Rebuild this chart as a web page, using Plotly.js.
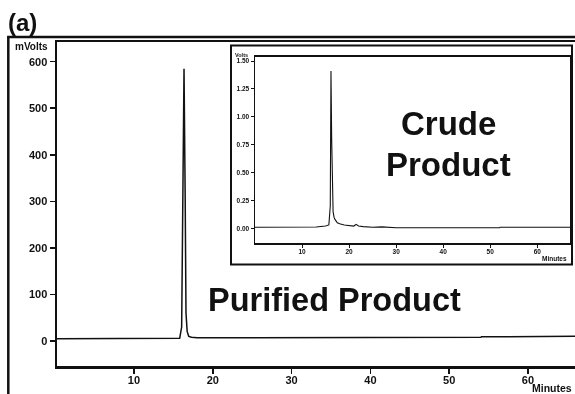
<!DOCTYPE html>
<html>
<head>
<meta charset="utf-8">
<script src="https://cdn.plot.ly/plotly-3.0.1.min.js"></script>
<style>
html,body{margin:0;padding:0;background:#fff;overflow:hidden;width:575px;height:394px;}
#chart{width:600px;height:394px;filter:grayscale(100%);-webkit-font-smoothing:antialiased;}
</style>
</head>
<body>
<div id="chart"></div>
<script>
// Purified product chromatogram (mVolts vs minutes)
const mainTime   = [0.2, 5, 9.5, 9.6, 12, 15.8, 16.05, 16.2, 16.35, 16.5, 16.6, 16.75, 16.95, 17.3, 18, 25, 42.5, 42.6, 54, 54.1, 60.3, 60.4, 68];
const mainSignal = [5,   5, 5,   6,   6,  6,    30,    300,  585,   300,  60,   20,    10,    8,    7,  7,  7,    8,    8,  9,    9,    10.5, 10.5];

// Crude product chromatogram (Volts vs minutes)
const insetTime   = [0, 5, 7, 8, 10, 13, 15, 15.7, 16.0, 16.15, 16.3, 16.45, 16.6, 16.8, 17, 17.5, 18, 19, 20, 21, 21.5, 22, 23, 25, 27, 29, 30, 52, 52.1, 67];
const insetSignal = [0.01, 0.01, 0.015, 0.012, 0.01, 0.012, 0.02, 0.03, 0.2, 1.41, 0.8, 0.3, 0.15, 0.1, 0.08, 0.05, 0.04, 0.03, 0.025, 0.02, 0.035, 0.02, 0.015, 0.01, 0.013, 0.008, 0.005, 0.005, 0.01, 0.01];

const mainXTicks  = [10, 20, 30, 40, 50, 60];
const mainYTicks  = [0, 100, 200, 300, 400, 500, 600];
const insetXTicks = [10, 20, 30, 40, 50, 60];
const insetYTicks = [0, 0.25, 0.5, 0.75, 1.0, 1.25, 1.5];
const insetYLabels = ['0.00', '0.25', '0.50', '0.75', '1.00', '1.25', '1.50'];

const FONT = 'Liberation Sans, Arial, Helvetica, sans-serif';
const INK = '#111';

// pixel -> paper helpers (plot area: x 57..590, y 42..366)
const L = 57, R = 10, T = 42, B = 28, W = 600, H = 394;
const PW = W - L - R, PH = H - T - B;
const px = v => (v - L) / PW;
const py = v => (H - B - v) / PH;

const traces = [
  {x: mainTime, y: mainSignal, type: 'scatter', mode: 'lines',
   line: {color: INK, width: 1.5}, xaxis: 'x', yaxis: 'y', hoverinfo: 'skip'},
  {x: insetTime, y: insetSignal, type: 'scatter', mode: 'lines',
   line: {color: INK, width: 1.1}, xaxis: 'x2', yaxis: 'y2', hoverinfo: 'skip'}
];

const layout = {
  width: W, height: H,
  margin: {l: L, r: R, t: T, b: B},
  paper_bgcolor: '#fff', plot_bgcolor: '#fff',
  showlegend: false,
  font: {family: FONT, color: INK},
  xaxis: {
    range: [0.23, 67.87], showgrid: false, zeroline: false,
    showline: true, mirror: true, linecolor: INK, linewidth: 2.5,
    ticks: 'outside', ticklen: 5, tickwidth: 1.5, tickcolor: INK,
    ticklabelstandoff: -3,
    tickvals: mainXTicks, ticktext: mainXTicks.map(String),
    tickfont: {family: FONT, size: 11, color: INK, weight: 'bold'}
  },
  yaxis: {
    range: [-53.7, 642.3], showgrid: false, zeroline: false,
    showline: true, mirror: true, linecolor: INK, linewidth: 2.5,
    ticks: 'outside', ticklen: 5, tickwidth: 1.5, tickcolor: INK,
    tickvals: mainYTicks, ticktext: mainYTicks.map(String),
    tickfont: {family: FONT, size: 11, color: INK, weight: 'bold'}
  },
  xaxis2: {
    domain: [px(255), px(570)], anchor: 'y2',
    range: [0, 66.96], showgrid: false, zeroline: false,
    showline: true, mirror: true, linecolor: INK, linewidth: 1.5,
    ticks: 'outside', ticklen: 3, tickwidth: 1, tickcolor: INK,
    ticklabelstandoff: -2,
    tickvals: insetXTicks, ticktext: insetXTicks.map(String),
    tickfont: {family: FONT, size: 6.5, color: INK, weight: 'bold'}
  },
  yaxis2: {
    domain: [py(243.3), py(56.5)], anchor: 'x2',
    range: [-0.1345, 1.541], showgrid: false, zeroline: false,
    showline: true, mirror: true, linecolor: INK, linewidth: 1.5,
    ticks: 'outside', ticklen: 3, tickwidth: 1, tickcolor: INK,
    tickvals: insetYTicks, ticktext: insetYLabels,
    tickfont: {family: FONT, size: 6.5, color: INK, weight: 'bold'}
  },
  shapes: [
    // outer figure frame
    {type: 'rect', xref: 'paper', yref: 'paper', x0: px(8.3), x1: 1.3, y0: -0.3, y1: py(37),
     line: {color: INK, width: 2.5}, fillcolor: 'rgba(0,0,0,0)', layer: 'above'},
    // inset frame
    {type: 'rect', xref: 'paper', yref: 'paper', x0: px(231), x1: px(572), y0: py(264.5), y1: py(45.5),
     line: {color: INK, width: 2}, fillcolor: '#fff', layer: 'below'}
  ],
  annotations: [
    {text: '<b>(a)</b>', xref: 'paper', yref: 'paper', x: px(6), y: py(23),
     xanchor: 'left', yanchor: 'middle', showarrow: false, font: {family: FONT, size: 24, color: INK}},
    {text: '<b>mVolts</b>', xref: 'paper', yref: 'paper', x: px(50), y: py(46),
     xanchor: 'right', yanchor: 'middle', showarrow: false, font: {family: FONT, size: 10, color: INK}},
    {text: '<b>Minutes</b>', xref: 'paper', yref: 'paper', x: px(574), y: py(387.5),
     xanchor: 'right', yanchor: 'middle', showarrow: false, font: {family: FONT, size: 10.5, color: INK}},
    {text: '<b>Volts</b>', xref: 'paper', yref: 'paper', x: px(250), y: py(54.7),
     xanchor: 'right', yanchor: 'middle', showarrow: false, font: {family: FONT, size: 5.5, color: INK}},
    {text: '<b>Minutes</b>', xref: 'paper', yref: 'paper', x: px(569), y: py(258.7),
     xanchor: 'right', yanchor: 'middle', showarrow: false, font: {family: FONT, size: 6.5, color: INK}},
    {text: '<b>Crude</b>', xref: 'paper', yref: 'paper', x: px(448), y: py(123),
     xanchor: 'center', yanchor: 'middle', showarrow: false, font: {family: FONT, size: 33, color: INK}},
    {text: '<b>Product</b>', xref: 'paper', yref: 'paper', x: px(448), y: py(164.5),
     xanchor: 'center', yanchor: 'middle', showarrow: false, font: {family: FONT, size: 33, color: INK}},
    {text: '<b>Purified Product</b>', xref: 'paper', yref: 'paper', x: px(334), y: py(300),
     xanchor: 'center', yanchor: 'middle', showarrow: false, font: {family: FONT, size: 32.5, color: INK}}
  ]
};

Plotly.newPlot('chart', traces, layout, {staticPlot: true, displayModeBar: false});
</script>
</body>
</html>
